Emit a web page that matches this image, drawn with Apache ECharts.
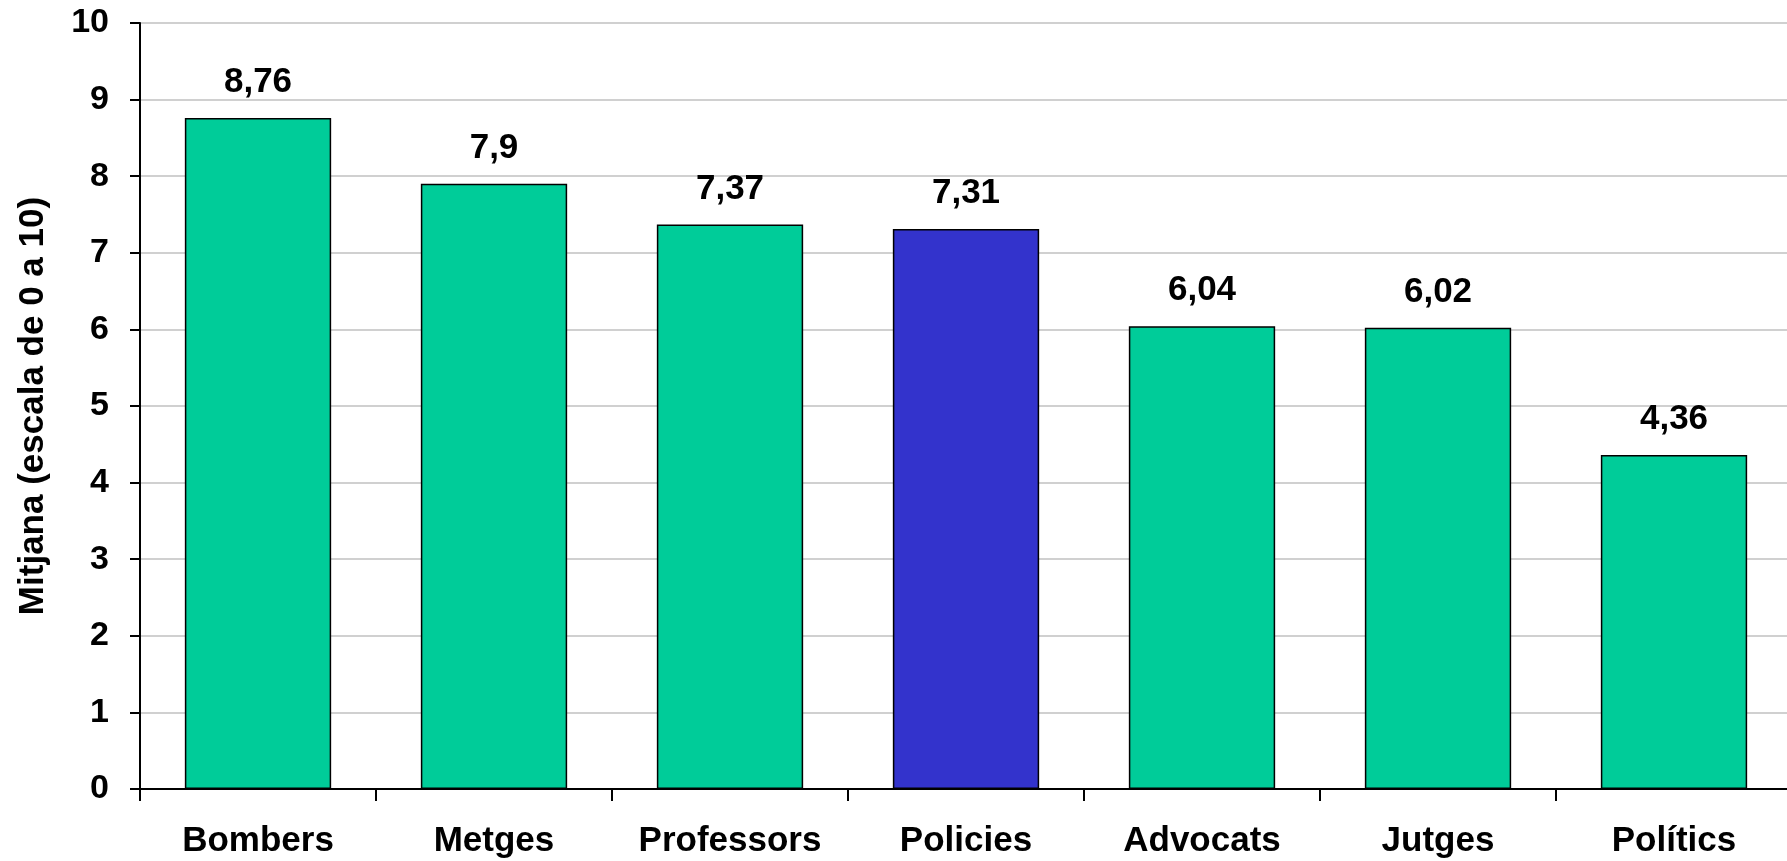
<!DOCTYPE html>
<html>
<head>
<meta charset="utf-8">
<script src="https://cdn.jsdelivr.net/npm/echarts@6/dist/echarts.min.js"></script>
<style>
html,body{margin:0;padding:0;background:#fff;}
#chart{width:1787px;height:861px;}
</style>
</head>
<body>
<div id="chart"></div>
<script>
const categories = ['Bombers', 'Metges', 'Professors', 'Policies', 'Advocats', 'Jutges', 'Polítics'];
const values = [8.76, 7.9, 7.37, 7.31, 6.04, 6.02, 4.36];
const highlighted = ['Policies'];
const yAxisTitle = 'Mitjana (escala de 0 a 10)';
const yMin = 0, yMax = 10, yInterval = 1;

const green = '#00CC99';
const blue = '#3333CC';
const font = '"Liberation Sans", Arial, sans-serif';

const chart = echarts.init(document.getElementById('chart'), null, {renderer: 'canvas'});
chart.setOption({
  animation: false,
  backgroundColor: '#ffffff',
  grid: {left: 140, width: 1652, top: 23, bottom: 72, containLabel: false, outerBoundsMode: 'none'},
  xAxis: {
    type: 'category',
    data: categories,
    boundaryGap: true,
    axisLine: {show: true, lineStyle: {color: '#000', width: 2}},
    axisTick: {show: true, length: 12, inside: false, alignWithLabel: false, lineStyle: {color: '#000', width: 2}},
    axisLabel: {color: '#000', fontFamily: font, fontWeight: 'bold', fontSize: 35, margin: 35, interval: 0},
    splitLine: {show: false}
  },
  yAxis: {
    type: 'value',
    min: yMin, max: yMax, interval: yInterval,
    name: yAxisTitle,
    nameLocation: 'middle',
    nameRotate: 90,
    nameGap: 89,
    nameTextStyle: {color: '#000', fontFamily: font, fontWeight: 'bold', fontSize: 35},
    axisLine: {show: true, lineStyle: {color: '#000', width: 2}},
    axisTick: {show: true, length: 10, inside: false, lineStyle: {color: '#000', width: 2}},
    axisLabel: {color: '#000', fontFamily: font, fontWeight: 'bold', fontSize: 34, margin: 31},
    splitLine: {show: true, lineStyle: {color: '#c0c0c0', width: 1.5}}
  },
  series: [{
    type: 'bar',
    barWidth: '62%',
    data: values.map((v, i) => ({
      value: v,
      itemStyle: {color: highlighted.includes(categories[i]) ? blue : green}
    })),
    itemStyle: {borderColor: '#000', borderWidth: 1.5},
    label: {
      show: true,
      position: 'top',
      distance: 18,
      color: '#000',
      fontFamily: font,
      fontWeight: 'bold',
      fontSize: 35,
      formatter: p => String(p.value).replace('.', ',')
    }
  }]
});
</script>
</body>
</html>
